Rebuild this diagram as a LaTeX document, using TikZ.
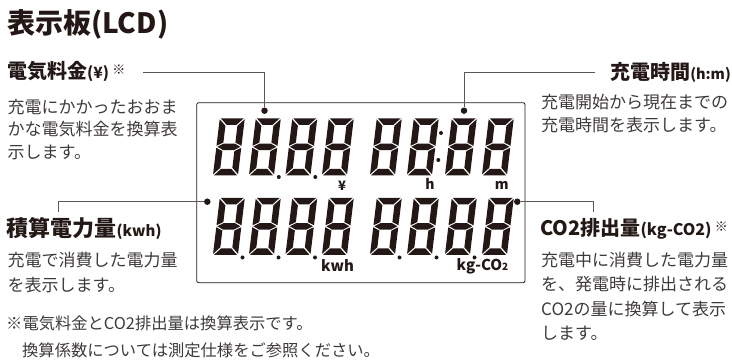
\documentclass[tikz,border=0pt]{standalone}
\usepackage{fontspec}
\setmainfont{Noto Sans CJK JP}
\definecolor{ink}{HTML}{231815}
\definecolor{bodyc}{HTML}{3E3A39}
\definecolor{wire}{HTML}{595757}
\newcommand\lcddigit[1]{%
  \begin{scope}[shift={(#1)}, xslant=0.12]
    \fill[ink] (1,0)--(24,0)--(17.5,6.5)--(7.5,6.5)--cycle;
    \fill[ink] (0,1)--(6.5,7.5)--(6.5,24.25)--(0,27.5)--cycle;
    \fill[ink] (25,1)--(25,27.5)--(18.5,24.25)--(18.5,7.5)--cycle;
    \fill[ink] (1,28.5)--(7,25.25)--(18,25.25)--(24,28.5)--(18,31.75)--(7,31.75)--cycle;
    \fill[ink] (0,29.5)--(6.5,32.75)--(6.5,49.5)--(0,56)--cycle;
    \fill[ink] (25,29.5)--(25,56)--(18.5,49.5)--(18.5,32.75)--cycle;
    \fill[ink] (1,57)--(24,57)--(17.5,50.5)--(7.5,50.5)--cycle;
  \end{scope}}
\begin{document}
\begin{tikzpicture}[x=1pt,y=-1pt,
  head/.style={inner sep=0, text=ink, font=\bfseries\fontsize{20}{24}\selectfont},
  body/.style={inner sep=0, align=left, text=bodyc},
  unit/.style={inner sep=0, text=ink, font=\bfseries\fontsize{14}{14}\selectfont},
  conn/.style={draw=wire, line width=0.9pt},
  pin/.style={circle, fill=ink, inner sep=0, minimum size=6.5pt},
  dp/.style={circle, fill=ink, inner sep=0, minimum size=4pt}]
\useasboundingbox (0,0) rectangle (732,363);

% title
\node[inner sep=0, anchor=base west, text=ink, font=\bfseries\fontsize{28}{32}\selectfont] (title) at (7,34) {表示板(LCD)};

% LCD panel
\draw[ink, line width=0.8pt, rounded corners=2pt] (196.7,102.7) rectangle (525,282.7);

% digits row 1
\foreach \x in {219.8,255.8,292.3,328.8,376.8,413.8,451.8,488.8} {\lcddigit{\x,118.3}}
% digits row 2
\foreach \x in {219.8,255.8,292.3,328.8,376.8,413.8,451.8,488.8} {\lcddigit{\x,197.8}}

% decimal points and colon
\node[dp] (p1) at (278.8,177) {};
\node[dp] (p2) at (315.3,177) {};
\node[dp] (c1) at (441,133) {};
\node[dp] (c2) at (438.3,160) {};
\node[dp] (q1) at (242.5,257.5) {};
\node[dp] (q2) at (278.5,257.5) {};
\node[dp] (q3) at (315,257.5) {};
\node[dp] (q4) at (399.5,257.5) {};
\node[dp] (q5) at (436.5,257.5) {};
\node[dp] (q6) at (474.5,257.5) {};

% units
\node[unit, font=\bfseries\fontsize{13}{13}\selectfont] (uyen) at (342,185.5) {¥};
\node[unit] (uh) at (430,183.5) {h};
\node[unit] (um) at (501.7,185.5) {m};
\node[unit, font=\bfseries\fontsize{15}{15}\selectfont] (ukwh) at (337.5,266) {kwh};
\node[unit, font=\bfseries\fontsize{15}{15}\selectfont] (uco) at (482.5,266) {kg-CO{\fontsize{10}{10}\selectfont 2}};

% pins
\node[pin] (d1) at (264.5,110.7) {};
\node[pin] (d2) at (464,110.7) {};
\node[pin] (d3) at (207.3,201.7) {};
\node[pin] (d4) at (517.3,201.7) {};

\coordinate (e1) at (143,72.6);
\coordinate (e2) at (595,72.6);
\coordinate (e3) at (58.3,212);
\coordinate (e4) at (593.3,212);
\draw[conn] (e1) -| (d1);
\draw[conn] (e2) -| (d2);
\draw[conn] (e3) |- (d3);
\draw[conn] (e4) |- (d4);

% headings
\node[head, anchor=base west] (hfee) at (7,78.6) {電気料金{\fontsize{15.5}{15}\selectfont(¥)}\,\raisebox{4pt}{\fontsize{13}{13}\selectfont\mdseries ※}};
\node[head, anchor=base east] (htime) at (731,79.6) {充電時間{\fontsize{14.5}{14}\selectfont(h:m)}};
\node[head, anchor=base west, font=\bfseries\fontsize{22}{26}\selectfont] (hkwh) at (6.5,236.7) {積算電力量{\fontsize{15}{15}\selectfont(kwh)}};
\node[head, anchor=base west] (hco) at (540,236) {CO2排出量{\fontsize{16}{15}\selectfont(kg-CO2)}\,\raisebox{4pt}{\fontsize{13}{13}\selectfont\mdseries ※}};

% body texts (anchor at the baseline of the last line)
\node[body, anchor=base west, font=\fontsize{17}{22.5}\selectfont] (tfee) at (7.5,158.2) {充電にかかったおおま\\かな電気料金を換算表\\示します。};
\node[body, anchor=base west, font=\fontsize{17}{23.3}\selectfont] (ttime) at (541,131.5) {充電開始から現在までの\\充電時間を表示します。};
\node[body, anchor=base west, font=\fontsize{17}{25}\selectfont] (tkwh) at (7.5,291.5) {充電で消費した電力量\\を表示します。};
\node[body, anchor=base west, font=\fontsize{17}{24.4}\selectfont] (tco) at (541,339.7) {充電中に消費した電力量\\を、発電時に排出される\\CO2の量に換算して表示\\します。};

% footnote
\node[body, anchor=base west, font=\fontsize{16.3}{26.7}\selectfont] (note) at (6,356.1) {※電気料金とCO2排出量は換算表示です。\\\hspace{16pt}換算係数については測定仕様をご参照ください。};
\end{tikzpicture}
\end{document}
